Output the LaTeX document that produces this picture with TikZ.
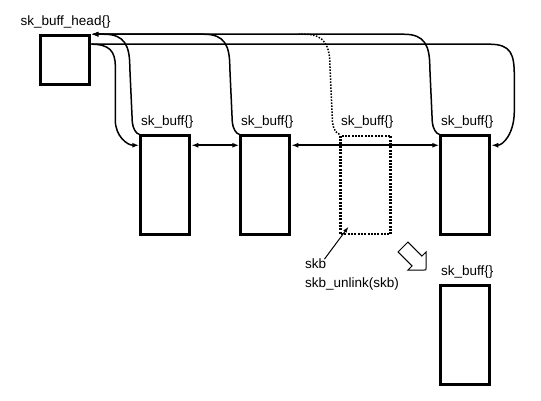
\documentclass[tikz,border=0pt]{standalone}
\usepackage{fontspec}
\setmainfont{Liberation Sans}
\usetikzlibrary{arrows.meta,calc}
\begin{document}
\begin{tikzpicture}[x=1pt,y=-1pt,
  lbl/.style={inner sep=0pt,anchor=base west,font=\fontsize{13.5}{16}\selectfont},
  box/.style={draw,line width=3pt,minimum width=49pt,minimum height=98.5pt,inner sep=0pt},
  dbox/.style={box,draw=none},
  hbox/.style={draw,line width=3pt,minimum width=49pt,minimum height=49pt,inner sep=0pt},
  conn/.style={line width=1.5pt},
  tip/.style={-{Latex[length=7pt,width=5pt]}},
  dtip/.style={{Latex[length=7pt,width=5pt]}-{Latex[length=7pt,width=5pt]}},
  dotline/.style={line width=1.5pt,dash pattern=on 1.5pt off 1.5pt},
  dotbox/.style={line width=2.5pt,dash pattern=on 2pt off 1.3pt}]
\useasboundingbox (0,0) rectangle (541,401);

% nodes
\node[hbox] (head) at (65.3,60.2) {};
\node[box] (b1) at (165.3,185) {};
\node[box] (b2) at (265.3,185) {};
\node[dbox] (b3) at (365.5,185) {};
\node[box] (b4) at (465.3,185) {};
\node[box] (b5) at (465.3,335) {};
\draw[dotbox] (340.5,135.8) rectangle (390.5,234.2);

% labels
\node[lbl] (lh) at (20.5,25.5) {sk\_buff\_head\{\}};
\node[lbl] (l1) at ($(b1.north west)+(1.5,-9)$) {sk\_buff\{\}};
\node[lbl] (l2) at ($(b2.north west)+(1.5,-9)$) {sk\_buff\{\}};
\node[lbl] (l3) at ($(b3.north west)+(1.5,-9)$) {sk\_buff\{\}};
\node[lbl] (l4) at ($(b4.north west)+(1.5,-9)$) {sk\_buff\{\}};
\node[lbl] (l5) at ($(b5.north west)+(1.5,-9)$) {sk\_buff\{\}};
\node[lbl] (skb) at (305,268) {skb};
\node[lbl] (unl) at (305,287) {skb\_unlink(skb)};

% list pointers to head
\foreach \b in {b1,b2,b4}{
  \draw[conn,tip] (\b.north west) .. controls +(-3,0) and +(0.5,6) .. ++(-7,-12)
     -- ++(-2.5,-55) .. controls +(0,-22) and +(20,0) .. ++(-25.5,-33) -- (head.north east);
}
\draw[dotline] (b3.north west) .. controls +(-3,0) and +(0.5,6) .. ++(-7,-12)
     -- ++(-2.5,-55) .. controls +(0,-22) and +(20,0) .. ++(-25.5,-33) -- ++(-6,0);

% head next -> b1
\draw[conn,tip] ($(head.north east)+(0,10)$) .. controls +(18,0) and +(0,-15) .. ++(24,22)
   -- ++(0,54) .. controls +(0,16) and +(-12,0) .. ($(b1.north west)+(0,11)$);
% head prev -> b4
\draw[conn,tip] ($(head.north east)+(0,10)$) -- ++(398,0) .. controls +(22,0) and +(0,-22) .. ++(25,32)
   -- ++(0,35) .. controls +(0,22) and +(12,0) .. ($(b4.north east)+(0,11)$);

% next/prev between boxes
\draw[conn,dtip] ($(b1.north east)+(0,11)$) -- ($(b2.north west)+(0,11)$);
\draw[conn,dtip] ($(b2.north east)+(0,11)$) -- ($(b4.north west)+(0,11)$);

% skb pointer
\draw[line width=1pt,-{Latex[length=6pt,width=4pt]}] ($(skb.east)+(-2,-4)$) -- ($(b3.south west)+(9,-9)$);

% hollow arrow
\draw[line width=1pt,shift={(403,247)},rotate=-45]
  (0,-7) -- (19.8,-7) -- (19.8,-13) -- (32.5,0) -- (19.8,13) -- (19.8,7) -- (0,7) -- cycle;
\end{tikzpicture}
\end{document}
